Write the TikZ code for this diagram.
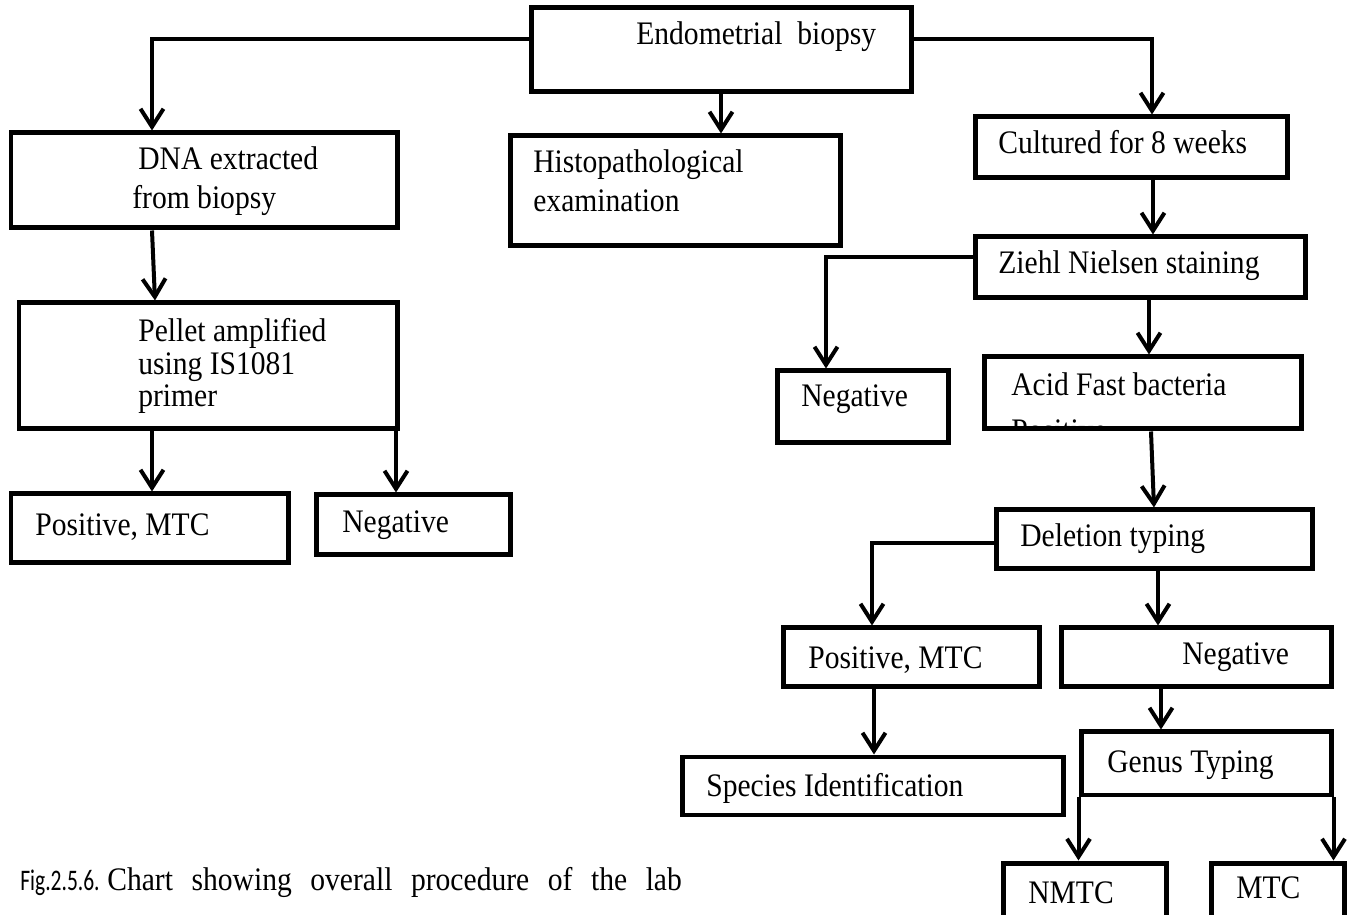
\documentclass[tikz,border=0pt]{standalone}
\usepackage{fontspec}
\setmainfont{Liberation Serif}[FakeStretch=0.9]
\newfontfamily\capsans{Carlito}[FakeStretch=0.72]
\usetikzlibrary{arrows.meta,fit}
\begin{document}
\begin{tikzpicture}[x=0.02cm,y=-0.02cm,
  box/.style={draw, line width=0.1cm, inner sep=0pt},
  lbl/.style={anchor=base west, inner sep=0pt, font=\fontsize{18.7}{22}\selectfont},
  arr/.style={line width=0.08cm, -{Straight Barb[length=0.36cm,width=0.46cm]}}]
\path[use as bounding box] (0,0) rectangle (1347,915);
\clip (0,0) rectangle (1347,915);

% boxes and texts
\node[box, fit={(531,8) (911,92)}] (endo) {};
\node[lbl] (tendo) at (636,45) {Endometrial\ \ biopsy};
\node[box, fit={(11,133) (397,228)}] (dna) {};
\node[lbl] (tdnaa) at (138,170) {DNA extracted};
\node[lbl] (tdnab) at (132,209) {from biopsy};
\node[box, fit={(510,136) (840,246)}] (histo) {};
\node[lbl] (thia) at (533,173) {Histopathological};
\node[lbl] (thib) at (533,212) {examination};
\node[box, fit={(975,117) (1287,178)}] (cult) {};
\node[lbl] (tcult) at (998,154) {Cultured for 8 weeks};
\node[box, fit={(975,237) (1305,298)}] (zn) {};
\node[lbl] (tzn) at (998,274) {Ziehl Nielsen staining};
\node[box, fit={(19,303) (397,429)}] (pel) {};
\node[lbl] (tpela) at (138,342) {Pellet amplified};
\node[lbl] (tpelb) at (138,375) {using IS1081};
\node[lbl] (tpelc) at (138,407) {primer};
\node[box, fit={(11,494) (288,563)}] (posa) {};
\node[lbl] (tposa) at (35,536) {Positive,\ MTC};
\node[box, fit={(316,495) (510,555)}] (nega) {};
\node[lbl] (tnega) at (342,533) {Negative};
\node[box, fit={(777,371) (948,443)}] (negb) {};
\node[lbl] (tnegb) at (801,407) {Negative};
\node[box, fit={(984,357) (1301,429)}] (acid) {};
\node[lbl] (tacid) at (1011,396) {Acid Fast bacteria};
\begin{scope}
  \clip ([shift={(2.5,2.5)}]acid.north west) rectangle ([shift={(-2.5,-2.5)}]acid.south east);
  \node[lbl] (tacidb) at (1011,442) {Positive};
\end{scope}
\node[box, fit={(996,510) (1312,569)}] (del) {};
\node[lbl] (tdel) at (1020,547) {Deletion typing};
\node[box, fit={(783,628) (1039,687)}] (posb) {};
\node[lbl] (tposb) at (808,669) {Positive,\ MTC};
\node[box, fit={(1061,628) (1331,687)}] (negc) {};
\node[lbl] (tnegc) at (1182,665) {Negative};
\node[box, fit={(682,757) (1063,815)}] (spec) {};
\node[lbl] (tspec) at (706,797) {Species Identification};
\node[box, fit={(1081,732) (1331,795)}] (genus) {};
\node[lbl] (tgenus) at (1107,773) {Genus Typing};
\node[box, fit={(1003,863) (1166,935)}] (nmtc) {};
\node[lbl] (tnmtc) at (1028,903) {NMTC};
\node[box, fit={(1211,863) (1344,935)}] (mtc) {};
\node[lbl] (tmtc) at (1236,898) {MTC};

% caption
\node[anchor=base west, inner sep=0pt] (capa) at (20,890)
  {\capsans\fontsize{17}{20}\selectfont Fig.2.5.6.};
\node[lbl] (capb) at (107,890)
  {\makebox[327pt][s]{Chart showing overall procedure of the lab}};

% connectors
\draw[arr] (endo.west |- 0,39) -| (dna.north -| 152,0);
\draw[arr] (endo.east |- 0,39) -| (cult.north -| 1152,0);
\draw[arr] (endo.south -| 721,0) -- (histo.north -| 721,0);
\draw[arr] (dna.south -| 152,0) -- (pel.north -| 155,0);
\draw[arr] (pel.south -| 152,0) -- (posa.north -| 152,0);
\draw[arr] (pel.south -| 396,0) -- (nega.north -| 396,0);
\draw[arr] (cult.south -| 1153,0) -- (zn.north -| 1153,0);
\draw[arr] (zn.west |- 0,257) -| (negb.north -| 826,0);
\draw[arr] (zn.south -| 1149,0) -- (acid.north -| 1149,0);
\draw[arr] (acid.south -| 1151,0) -- (del.north -| 1154,0);
\draw[arr] (del.west |- 0,543) -| (posb.north -| 872,0);
\draw[arr] (del.south -| 1158,0) -- (negc.north -| 1158,0);
\draw[arr] (posb.south -| 874,0) -- (spec.north -| 874,0);
\draw[arr] (negc.south -| 1161,0) -- (genus.north -| 1161,0);
\draw[arr] (genus.south west) -- (nmtc.north -| genus.south west);
\draw[arr] (genus.south east) -- (mtc.north -| genus.south east);
\end{tikzpicture}
\end{document}
